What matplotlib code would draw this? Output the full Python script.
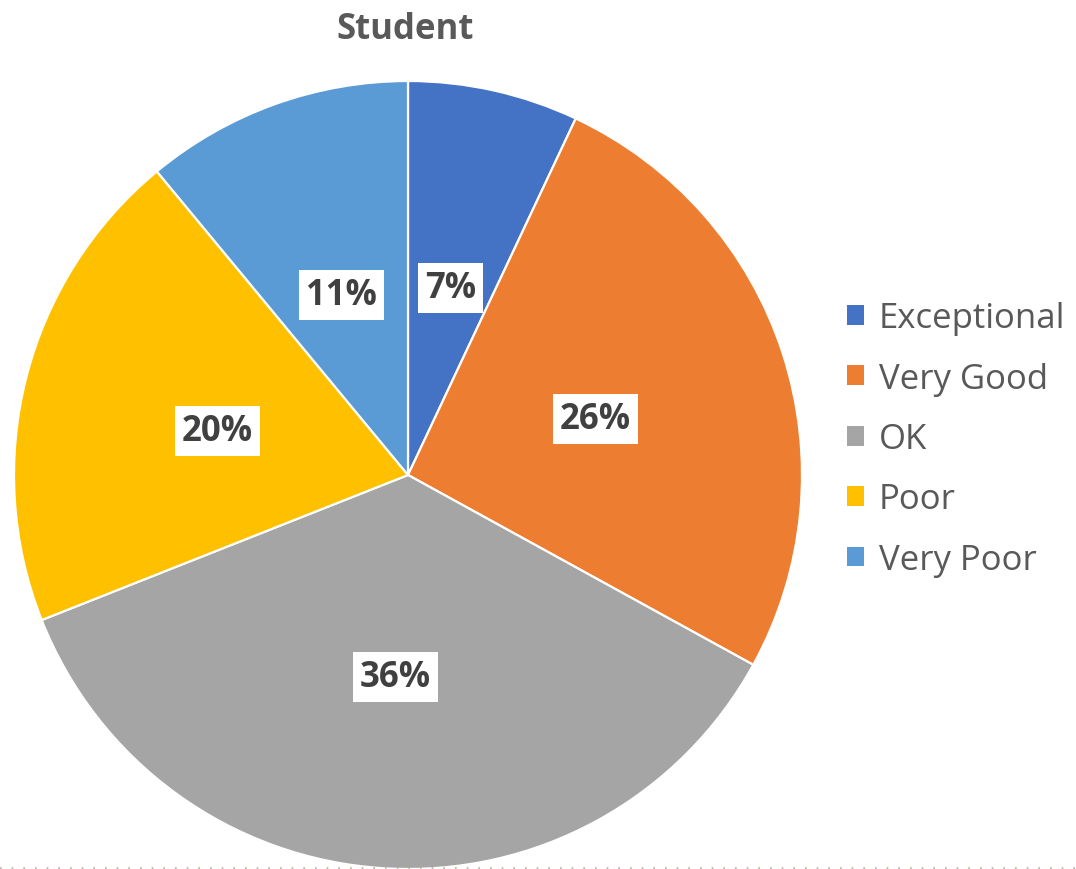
import matplotlib
matplotlib.use("Agg")
import matplotlib.pyplot as plt
from matplotlib.patches import Patch

categories = ["Exceptional", "Very Good", "OK", "Poor", "Very Poor"]
shares = [7, 26, 36, 20, 11]
colors = ["#4472C4", "#ED7D31", "#A5A5A5", "#FFC000", "#5B9BD5"]
title = "Student"

plt.rcParams["font.family"] = ["Open Sans", "DejaVu Sans"]

W, H = 1076, 870
fig = plt.figure(figsize=(W / 100, H / 100), dpi=100)
ax = fig.add_axes([0, 0, 1, 1])

center = (408, 394)
radius = 394

wedges, texts, autotexts = ax.pie(
    shares,
    colors=colors,
    startangle=90,
    counterclock=False,
    center=center,
    radius=radius,
    autopct=lambda p: f"{p:.0f}%",
    pctdistance=0.5,
    wedgeprops=dict(edgecolor="white", linewidth=1.6),
    frame=True,
)
ax.set_xlim(0, W)
ax.set_ylim(0, H)
ax.set_aspect("equal")
ax.axis("off")

for t in autotexts:
    x, y = t.get_position()
    t.set_position((x, y - 5))
    t.set_fontsize(25)
    t.set_fontweight("bold")
    t.set_color("#404040")
    t.set_bbox(dict(boxstyle="square,pad=0.2", facecolor="white", edgecolor="none"))

ax.text(405, H - 30, title, ha="center", va="center", fontsize=25,
        fontweight="bold", color="#595959")

handles = [Patch(facecolor=c, edgecolor="none") for c in colors]
leg = ax.legend(
    handles, categories,
    loc="center left", bbox_to_anchor=(847 / W, 1 - 440 / H),
    frameon=False, fontsize=25, labelcolor="#595959",
    handlelength=0.5, handleheight=0.5, handletextpad=0.42,
    labelspacing=0.76, borderpad=0, borderaxespad=0,
)

# dotted rule along the bottom edge
ax.plot([0, W], [1.5, 1.5], color="#b8ad98", linewidth=1.2,
        linestyle=(0, (1, 6)), clip_on=False)

fig.savefig("out.png", dpi=100, facecolor="white")
